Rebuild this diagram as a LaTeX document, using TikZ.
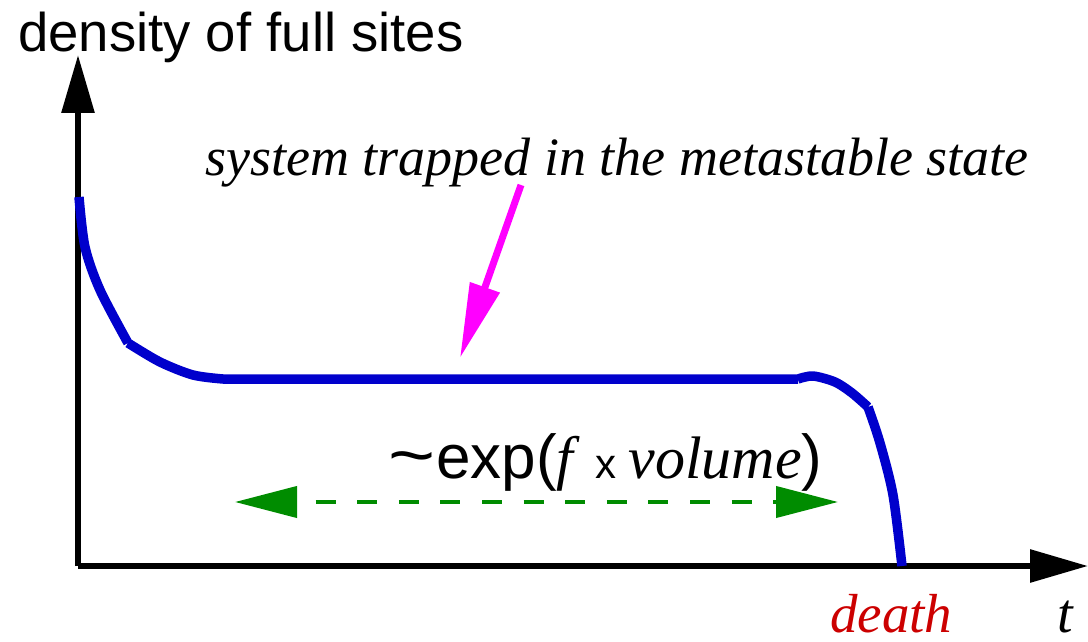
\documentclass[tikz,border=0pt]{standalone}
\usepackage{graphicx}
\usepackage{fontspec}
\setmainfont{Liberation Serif}
\newfontfamily\arialf{Liberation Sans}
\usetikzlibrary{arrows.meta}
\definecolor{curveblue}{RGB}{0,0,204}
\definecolor{arrmag}{RGB}{255,0,255}
\definecolor{arrgreen}{RGB}{0,140,0}
\definecolor{deathred}{RGB}{204,0,0}
\tikzset{
  axisline/.style={line width=6pt,-{Triangle[length=58pt,width=32pt]}},
  curveline/.style={line width=9.5pt,curveblue,line join=round},
  label/.style={inner sep=0pt,anchor=base west},
}
\begin{document}
\begin{tikzpicture}[x=1pt,y=-1pt]
\useasboundingbox (0,0) rectangle (1088,642);
\coordinate (O) at (78,566);
\coordinate (ytip) at (78,55);
\coordinate (xtip) at (1088,566);
\draw[axisline] (O) -- (ytip);
\draw[axisline] (O) -- (xtip);
\node[label] (ylab) at (18,52) {\arialf\fontsize{54.5}{60}\selectfont density of full sites};
\node[label] (sys) at (205,175) {\itshape\fontsize{54}{58}\selectfont system trapped in the metastable state};
\draw[curveline] plot[smooth,tension=0.5] coordinates {(79,197) (85,247) (100,290) (128,343)}
  plot[smooth,tension=0.5] coordinates {(128,343) (160,362) (193,375) (223,379)}
  -- (798,379) plot[smooth,tension=0.5] coordinates {(798,379) (813,376) (835,382) (852,393) (868,407)}
  plot[smooth,tension=0.5] coordinates {(868,407) (880,443) (893,495) (902,566)};
\coordinate (magstart) at (521,185);
\coordinate (magtip) at (460,358);
\draw[line width=7pt,arrmag,-{Triangle[length=75pt,width=30pt]}] (magstart) -- (magtip);
\node[label] (expr) at (388,478) {\arialf\fontsize{62}{66}\selectfont \scalebox{1.3}[1.1]{\textasciitilde}\hspace{1pt}exp(\rmfamily\itshape\fontsize{60}{64}\selectfont f\hspace{22pt}{\arialf\upshape\fontsize{42}{46}\selectfont x}\hspace{12pt}volume\arialf\upshape\fontsize{62}{66}\selectfont)};
\coordinate (gl) at (235,502);
\coordinate (gr) at (838,502);
\draw[line width=4pt,arrgreen,dash pattern=on 20pt off 21.6pt,dash phase=22pt,{Triangle[length=62pt,width=31pt]}-{Triangle[length=62pt,width=31pt]}] (gl) -- (gr);
\node[label,text=deathred] (death) at (830,632) {\itshape\fontsize{55}{58}\selectfont death};
\node[label] (t) at (1057,632) {\itshape\fontsize{56}{60}\selectfont t};
\end{tikzpicture}
\end{document}
